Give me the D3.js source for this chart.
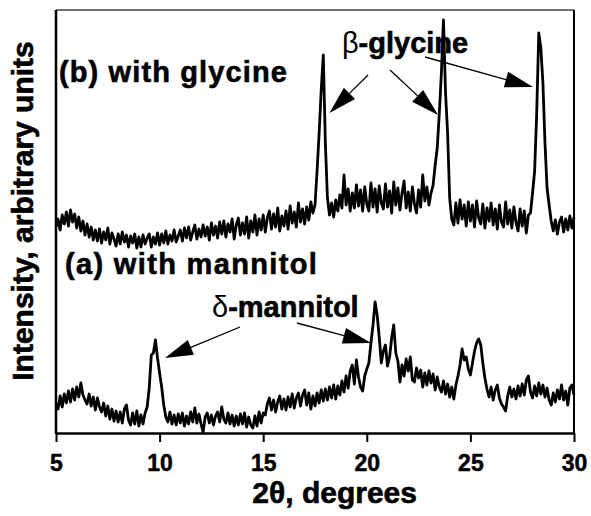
<!DOCTYPE html>
<html>
<head>
<meta charset="utf-8">
<script src="https://cdn.jsdelivr.net/npm/d3@7"></script>
<style>
  body { margin: 0; background: #fff; }
  svg { display: block; font-family: "Liberation Sans", Arial, sans-serif; }
</style>
</head>
<body>
<div id="chart"></div>
<script>
// 2-theta grid, 5.0 .. 30.0 step 0.1
const thetaStart = 5, thetaStep = 0.1;

// (b) with glycine, intensity per 0.1 deg
const glycine = [
  206, 214, 203, 218, 209, 221, 207, 223, 211, 219,
  205, 216, 202, 212, 198, 209, 196, 206, 193, 203,
  192, 204, 190, 201, 193, 205, 189, 200, 194, 187,
  199, 189, 201, 191, 198, 186, 197, 190, 199, 185,
  196, 186, 198, 189, 195, 199, 186, 196, 189, 200,
  188, 199, 190, 202, 189, 198, 192, 203, 191, 197,
  203, 192, 205, 195, 206, 193, 201, 208, 194, 204,
  196, 208, 197, 206, 193, 210, 198, 207, 195, 211,
  199, 212, 196, 209, 201, 214, 194, 208, 215, 198,
  210, 199, 216, 195, 212, 201, 218, 198, 214, 203,
  218, 201, 215, 222, 204, 219, 206, 225, 202, 217,
  207, 222, 204, 227, 210, 221, 206, 230, 211, 224,
  209, 226, 213, 231, 220, 228, 262, 300, 343, 378,
  290, 235, 218, 230, 216, 233, 222, 238, 225, 258,
  228, 244, 222, 240, 225, 248, 227, 243, 222, 246,
  229, 222, 250, 226, 244, 221, 247, 230, 224, 249,
  226, 242, 220, 251, 228, 245, 223, 240, 252, 225,
  241, 222, 246, 229, 220, 243, 226, 258, 232, 246,
  228, 240, 248, 268, 285, 320, 360, 413, 340, 300,
  235, 214, 208, 230, 210, 233, 214, 228, 207, 231,
  212, 228, 206, 232, 215, 209, 229, 205, 225, 212,
  230, 208, 224, 204, 228, 211, 206, 231, 209, 223,
  205, 226, 211, 202, 224, 207, 222, 200, 218, 220,
  240, 262, 320, 400, 385, 350, 290, 245, 228, 212,
  202, 213, 199, 211, 216, 201, 214, 203, 217, 205,
  216
];

// (a) with mannitol
const mannitol = [
  30, 24, 37, 26, 39, 30, 42, 31, 44, 33,
  46, 36, 50, 38, 33, 29, 39, 27, 36, 23,
  35, 26, 21, 30, 17, 27, 14, 24, 12, 22,
  11, 21, 10, 24, 28, 13, 8, 20, 9, 22,
  7, 18, 9, 20, 26, 45, 78, 80, 93, 75,
  60, 46, 28, 16, 11, 21, 9, 18, 8, 19,
  10, 20, 7, 17, 9, 21, 11, 25, 10, 19,
  9, 1, 16, 20, 10, 18, 8, 17, 21, 11,
  26, 14, 10, 20, 9, 18, 7, 17, 8, 19,
  9, 20, 6, 16, 8, 5, 17, 7, 21, 10,
  20, 18, 29, 35, 23, 33, 21, 31, 37, 24,
  34, 23, 36, 26, 39, 25, 35, 40, 27, 38,
  43, 28, 40, 24, 37, 27, 40, 30, 43, 32,
  44, 33, 46, 35, 48, 34, 47, 38, 52, 41,
  57, 45, 62, 68, 49, 73, 56, 46, 42, 57,
  64, 70, 90, 108, 131, 118, 96, 70, 82, 88,
  67, 76, 95, 108, 80, 72, 51, 68, 57, 74,
  62, 76, 53, 51, 65, 55, 63, 46, 60, 48,
  62, 50, 59, 43, 56, 46, 41, 52, 39, 49,
  36, 46, 34, 48, 57, 68, 84, 73, 76, 64,
  58, 70, 82, 90, 94, 88, 70, 55, 44, 36,
  46, 33, 43, 48, 35, 29, 26, 22, 37, 46,
  36, 44, 34, 47, 37, 49, 38, 53, 57, 41,
  35, 47, 37, 50, 39, 48, 36, 45, 33, 28,
  40, 31, 43, 34, 48, 33, 42, 28, 45, 48,
  38
];

const xTicks = [5, 10, 15, 20, 25, 30];

// labels in data space: [2theta, intensity]
const labels = [
  { text: "(b) with glycine", at: [5.14, 351], length: 228 },
  { text: "(a) with mannitol", at: [5.43, 159], length: 252 }
];
const phaseLabels = [
  { sym: "β", text: "-glycine", at: [18.8, 380] },
  { sym: "δ", text: "-mannitol", at: [12.53, 116] }
];
// arrows: from -> to, [2theta, intensity]
const arrows = [
  { from: [20.06, 358], to: [18.2, 320] },
  { from: [21.12, 363], to: [23.44, 318] },
  { from: [22.81, 376], to: [28.02, 346] },
  { from: [13.88, 106], to: [10.26, 75] },
  { from: [16.63, 110], to: [20.2, 90] }
];

const width = 591, height = 516,
  margin = { top: 10, right: 17, bottom: 83, left: 56 };

const svg = d3.select("#chart")
  .append("svg")
  .attr("width", width)
  .attr("height", height);

svg.append("rect")
  .attr("width", width)
  .attr("height", height)
  .attr("fill", "#fff");

const xScale = d3.scaleLinear()
  .domain([5, 30])
  .range([margin.left, width - margin.right]);

const yScale = d3.scaleLinear()
  .domain([0, 423])
  .range([height - margin.bottom, margin.top]);

const toPoints = arr => arr.map((v, i) => [thetaStart + i * thetaStep, v]);

const line = d3.line()
  .x(d => xScale(d[0]))
  .y(d => yScale(d[1]));

// frame
const x0 = xScale(5), x1 = xScale(30), y0 = yScale(0), y1 = yScale(423);
svg.append("line").attr("x1", x0).attr("x2", x1).attr("y1", y1).attr("y2", y1)
  .attr("stroke", "#444").attr("stroke-width", 1.5);
svg.append("line").attr("x1", x1).attr("x2", x1).attr("y1", y1).attr("y2", y0)
  .attr("stroke", "#000").attr("stroke-width", 2);
svg.append("line").attr("x1", x0).attr("x2", x0).attr("y1", y1).attr("y2", y0 + 1)
  .attr("stroke", "#000").attr("stroke-width", 2.5);

const xAxis = d3.axisBottom(xScale)
  .tickValues(xTicks)
  .tickSize(9)
  .tickSizeOuter(0)
  .tickPadding(13);

const gx = svg.append("g")
  .attr("class", "axis x-axis")
  .attr("transform", `translate(0,${y0})`)
  .call(xAxis);

gx.select(".domain")
  .attr("stroke", "#000")
  .attr("stroke-width", 2.5);
gx.selectAll(".tick line")
  .attr("stroke", "#000")
  .attr("stroke-width", 2);
gx.selectAll(".tick text")
  .attr("fill", "#000")
  .attr("font-size", 23)
  .attr("font-weight", "bold")
  .attr("stroke", "#000")
  .attr("stroke-width", 0.5)
  .attr("font-family", "Liberation Sans, Arial, sans-serif");

// axis titles
svg.append("text")
  .attr("x", xScale(18.45))
  .attr("y", 503)
  .attr("text-anchor", "middle")
  .attr("font-size", 30)
  .attr("font-weight", "bold")
  .attr("stroke", "#000")
  .attr("stroke-width", 0.6)
  .text("2θ, degrees");

svg.append("text")
  .attr("transform", `translate(33,${yScale(222)}) rotate(-90)`)
  .attr("text-anchor", "middle")
  .attr("font-size", 30)
  .attr("font-weight", "bold")
  .attr("stroke", "#000")
  .attr("stroke-width", 0.6)
  .text("Intensity, arbitrary units");

// patterns
[glycine, mannitol].forEach(series => {
  svg.append("path")
    .datum(toPoints(series))
    .attr("fill", "none")
    .attr("stroke", "#000")
    .attr("stroke-width", 2.8)
    .attr("stroke-linejoin", "round")
    .attr("d", line);
});

// sample labels
svg.selectAll(".sample-label")
  .data(labels)
  .join("text")
  .attr("class", "sample-label")
  .attr("x", d => xScale(d.at[0]))
  .attr("y", d => yScale(d.at[1]))
  .attr("font-size", 29)
  .attr("font-weight", "bold")
  .attr("stroke", "#000")
  .attr("stroke-width", 0.6)
  .attr("textLength", d => d.length)
  .attr("lengthAdjust", "spacing")
  .text(d => d.text);

// phase labels
const pl = svg.selectAll(".phase-label")
  .data(phaseLabels)
  .join("text")
  .attr("class", "phase-label")
  .attr("x", d => xScale(d.at[0]))
  .attr("y", d => yScale(d.at[1]))
  .attr("font-size", 29);
pl.append("tspan").attr("font-weight", "normal").text(d => d.sym);
pl.append("tspan").attr("font-weight", "bold")
  .attr("stroke", "#000").attr("stroke-width", 0.6)
  .text(d => d.text);

// arrows with filled heads
const headLen = 28, headHalf = 8;
arrows.forEach(a => {
  const sx = xScale(a.from[0]), sy = yScale(a.from[1]);
  const tx = xScale(a.to[0]), ty = yScale(a.to[1]);
  const len = Math.hypot(tx - sx, ty - sy);
  const ux = (tx - sx) / len, uy = (ty - sy) / len;
  const bx = tx - ux * headLen, by = ty - uy * headLen;
  svg.append("line")
    .attr("x1", sx).attr("y1", sy)
    .attr("x2", bx).attr("y2", by)
    .attr("stroke", "#000")
    .attr("stroke-width", 1.3);
  svg.append("polygon")
    .attr("points", [
      [tx, ty],
      [bx - uy * headHalf, by + ux * headHalf],
      [bx + uy * headHalf, by - ux * headHalf]
    ].map(p => p.join(",")).join(" "))
    .attr("fill", "#000");
});
</script>
</body>
</html>
